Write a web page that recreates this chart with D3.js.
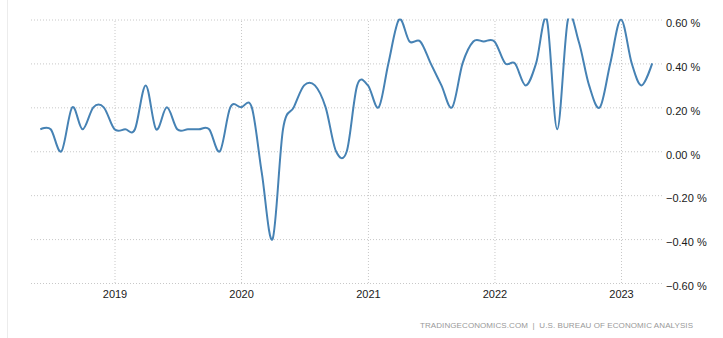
<!DOCTYPE html>
<html>
<head>
<meta charset="utf-8">
<script src="https://cdn.jsdelivr.net/npm/d3@7"></script>
<style>
  html, body { margin: 0; padding: 0; background: #fff; }
  #chart { width: 723px; height: 338px; }
  text { font-family: "Liberation Sans", Arial, sans-serif; }
</style>
</head>
<body>
<div id="chart"></div>
<script>
// monthly change
const months = [
  "2018-06", "2018-07", "2018-08", "2018-09", "2018-10", "2018-11", "2018-12",
  "2019-01", "2019-02", "2019-03", "2019-04", "2019-05", "2019-06",
  "2019-07", "2019-08", "2019-09", "2019-10", "2019-11", "2019-12",
  "2020-01", "2020-02", "2020-03", "2020-04", "2020-05", "2020-06",
  "2020-07", "2020-08", "2020-09", "2020-10", "2020-11", "2020-12",
  "2021-01", "2021-02", "2021-03", "2021-04", "2021-05", "2021-06",
  "2021-07", "2021-08", "2021-09", "2021-10", "2021-11", "2021-12",
  "2022-01", "2022-02", "2022-03", "2022-04", "2022-05", "2022-06",
  "2022-07", "2022-08", "2022-09", "2022-10", "2022-11", "2022-12",
  "2023-01", "2023-02", "2023-03", "2023-04"
];
const values = [
  0.1, 0.1, 0.0, 0.2, 0.1, 0.2, 0.2,
  0.1, 0.1, 0.1, 0.3, 0.1, 0.2,
  0.1, 0.1, 0.1, 0.1, 0.0, 0.2,
  0.2, 0.2, -0.1, -0.4, 0.1, 0.2,
  0.3, 0.3, 0.2, 0.0, 0.0, 0.3,
  0.3, 0.2, 0.4, 0.6, 0.5, 0.5,
  0.4, 0.3, 0.2, 0.4, 0.5, 0.5,
  0.5, 0.4, 0.4, 0.3, 0.4, 0.6,
  0.1, 0.6, 0.5, 0.3, 0.2, 0.4,
  0.6, 0.4, 0.3, 0.4
];
const yTicks = [-0.6, -0.4, -0.2, 0, 0.2, 0.4, 0.6];
const yearTicks = ["2019", "2020", "2021", "2022", "2023"];
const sourceText = "TRADINGECONOMICS.COM  |  U.S. BUREAU OF ECONOMIC ANALYSIS";

const width = 723;
const height = 338;
const plot = { left: 30, right: 662, top: 19.5, bottom: 283 };

const parseMonth = d3.timeParse("%Y-%m");
const data = months.map((m, i) => ({ date: parseMonth(m), value: values[i] }));

// year ticks sit at 114.5 and 621 px in the reference
const x = d3.scaleTime()
  .domain([parseMonth("2019-01"), parseMonth("2023-01")])
  .range([114.5, 621]);

const y = d3.scaleLinear()
  .domain([-0.6, 0.6])
  .range([plot.bottom, plot.top]);

const svg = d3.select("#chart").append("svg")
  .attr("width", width)
  .attr("height", height);

// faint frame line on the left
svg.append("line")
  .attr("x1", 7.5).attr("x2", 7.5)
  .attr("y1", 0).attr("y2", height)
  .attr("stroke", "#ececec");

// horizontal grid + right labels
const yAxis = d3.axisRight(y)
  .tickValues(yTicks)
  .tickSize(-(plot.right - plot.left))
  .tickPadding(4)
  .tickFormat(d => d3.format(".2f")(d) + " %");

const gy = svg.append("g")
  .attr("transform", `translate(${plot.right},0)`)
  .call(yAxis);
gy.select(".domain").remove();
gy.selectAll(".tick line")
  .attr("stroke", "#c8c8c8")
  .attr("stroke-dasharray", "1,2");
gy.selectAll(".tick text")
  .attr("fill", "#1a1a1a")
  .attr("font-size", 11)
  .attr("dy", "0.62em");

// vertical grid at years
const yearDates = yearTicks.map(d => d3.timeParse("%Y")(d));
const xAxis = d3.axisBottom(x)
  .tickValues(yearDates)
  .tickSize(-(plot.bottom - plot.top))
  .tickPadding(7)
  .tickFormat(d3.timeFormat("%Y"));

const gx = svg.append("g")
  .attr("transform", `translate(0,${plot.bottom})`)
  .call(xAxis);
gx.select(".domain").remove();
gx.selectAll(".tick line")
  .attr("stroke", "#c8c8c8")
  .attr("stroke-dasharray", "1,2");
gx.selectAll(".tick text")
  .attr("fill", "#1a1a1a")
  .attr("font-size", 11);

// clip the line to the plot area (peaks above 0.60 get cut)
svg.append("clipPath")
  .attr("id", "plot-clip")
  .append("rect")
  .attr("x", plot.left)
  .attr("y", plot.top - 1)
  .attr("width", plot.right - plot.left)
  .attr("height", plot.bottom - plot.top + 2);

const line = d3.line()
  .x(d => x(d.date))
  .y(d => y(d.value))
  .curve(d3.curveCardinal.tension(0));

svg.append("path")
  .datum(data)
  .attr("clip-path", "url(#plot-clip)")
  .attr("fill", "none")
  .attr("stroke", "#4682b4")
  .attr("stroke-width", 2)
  .attr("stroke-linejoin", "round")
  .attr("d", line);

// source note
svg.append("text")
  .attr("x", 420)
  .attr("y", 327.5)
  .attr("font-size", 8)
  .attr("fill", "#999")
  .attr("textLength", 273)
  .attr("lengthAdjust", "spacing")
  .style("white-space", "pre")
  .text(sourceText);
</script>
</body>
</html>
